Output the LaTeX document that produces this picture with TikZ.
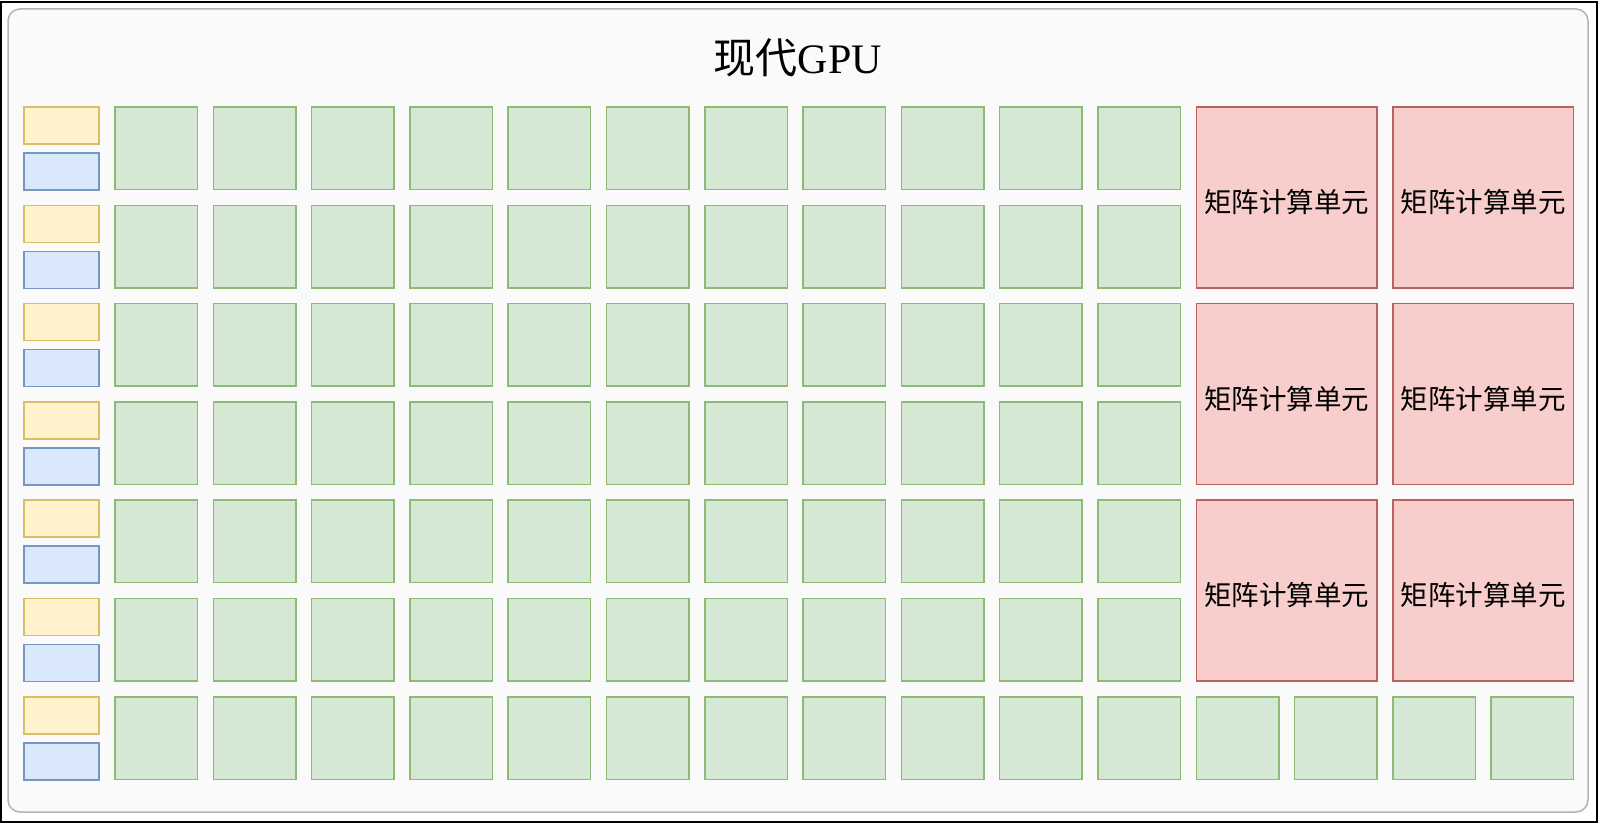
\documentclass[tikz,border=0pt]{standalone}
\usepackage{fontspec}
\setmainfont{Liberation Serif}
\newfontfamily\cjk{Noto Sans CJK SC}
\definecolor{gfill}{HTML}{D5E8D4}\definecolor{gline}{HTML}{8DBA74}
\definecolor{yfill}{HTML}{FFF2CC}\definecolor{yline}{HTML}{D9BE68}
\definecolor{bfill}{HTML}{DAE8FC}\definecolor{bline}{HTML}{7896C4}
\definecolor{rfill}{HTML}{F8CECC}\definecolor{rline}{HTML}{BC625E}
\definecolor{pfill}{HTML}{FAFAFA}\definecolor{pline}{HTML}{B3B3B3}
\begin{document}
\begin{tikzpicture}[x=1pt,y=-1pt,
  cell/.style={anchor=north west,inner sep=0pt,outer sep=0pt,line width=1.5pt},
  gcell/.style={cell,draw=gline,fill=gfill,minimum width=82.5pt,minimum height=82.5pt},
  ycell/.style={cell,draw=yline,fill=yfill,minimum width=75pt,minimum height=37pt},
  bcell/.style={cell,draw=bline,fill=bfill,minimum width=75pt,minimum height=37pt},
  rcell/.style={cell,draw=rline,fill=rfill,minimum width=180.8pt,minimum height=180.8pt,text height=32pt,text depth=2pt,font=\cjk\fontsize{27.5}{30}\selectfont}]
\useasboundingbox (0,0) rectangle (1600,826);
\node[cell,draw=black,line width=1.5pt,minimum width=1596pt,minimum height=820pt] (frame) at (1,2) {};
\node[cell,draw=pline,fill=pfill,rounded corners=12pt,minimum width=1580pt,minimum height=803pt] (panel) at (8,9) {};
\node[font=\fontsize{42}{48}\selectfont,inner sep=0pt] (title) at (798,58) {{\cjk 现代}GPU};
\foreach \r in {0,...,6}{
  \node[ycell] (y-\r) at (24,{107+98.3*\r}) {};
  \node[bcell] (b-\r) at (24,{153+98.3*\r}) {};
  \foreach \c in {0,...,10}{
    \node[gcell] (g-\r-\c) at ({115+98.3*\c},{107+98.3*\r}) {};
  }
}
\foreach \c in {11,...,14}{
  \node[gcell] (g-6-\c) at ({115+98.3*\c},{107+98.3*6}) {};
}
\foreach \r in {0,2,4}{
  \foreach \c in {11,13}{
    \node[rcell] (m-\r-\c) at ({115+98.3*\c},{107+98.3*\r}) {矩阵计算单元};
  }
}
\end{tikzpicture}
\end{document}
